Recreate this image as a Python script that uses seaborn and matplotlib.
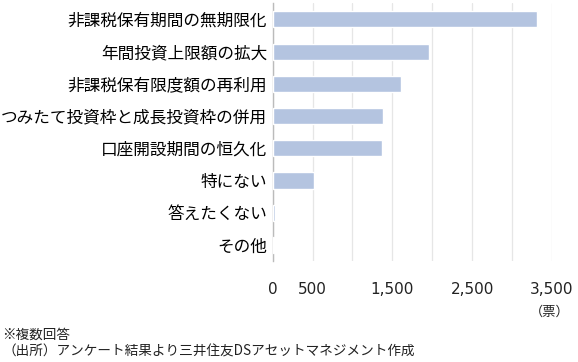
import matplotlib
matplotlib.use("Agg")
import matplotlib.pyplot as plt
import seaborn as sns
import pandas as pd

categories = ["非課税保有期間の無期限化", "年間投資上限額の拡大", "非課税保有限度額の再利用",
              "つみたて投資枠と成長投資枠の併用", "口座開設期間の恒久化", "特にない",
              "答えたくない", "その他"]
values = [3310, 1955, 1610, 1385, 1375, 512, 30, 12]
tick_values = [0, 500, 1500, 2500, 3500]
tick_labels = ["0", "500", "1,500", "2,500", "3,500"]

sns.set_theme(style="white")
plt.rcParams['font.family'] = ['Noto Sans CJK JP', 'DejaVu Sans']

df = pd.DataFrame({"cat": categories, "val": values})

fig = plt.figure(figsize=(5.78, 3.62), dpi=100)
ax = fig.add_axes([0.4718, 0.279, 0.955 - 0.4718, 0.991 - 0.279])
sns.barplot(data=df, x="val", y="cat", orient="h", color="#b4c4e0", width=0.5,
            saturation=1, ax=ax, zorder=3)
ax.set_xlim(0, 3500)
ax.set_ylim(7.5, -0.5)
for g in range(0, 3501, 500):
    ax.axvline(g, color="#e6e6e6", lw=0.9, zorder=1)
ax.set_xticks(tick_values)
ax.set_xticklabels(tick_labels, fontsize=11, color="#222222", family="DejaVu Sans")
ax.tick_params(axis="x", length=0, pad=15)
ax.tick_params(axis="y", length=0, pad=4, labelsize=12, labelcolor="#000000")
ax.set_xlabel("")
ax.set_ylabel("")
for s in ["top", "right", "bottom"]:
    ax.spines[s].set_visible(False)
ax.spines["left"].set_color("#bbbbbb")
ax.spines["left"].set_linewidth(1.0)

fig.text(570 / 578, 1 - 312 / 362, "（票）", ha="right", va="center", fontsize=9.5, color="#222222")
fig.text(2 / 578, 1 - 335 / 362, "※複数回答", ha="left", va="center", fontsize=9.8, color="#222222")
fig.text(2 / 578, 1 - 352 / 362, "（出所）アンケート結果より三井住友DSアセットマネジメント作成",
         ha="left", va="center", fontsize=9.8, color="#222222")

fig.savefig("out.png", dpi=100)
